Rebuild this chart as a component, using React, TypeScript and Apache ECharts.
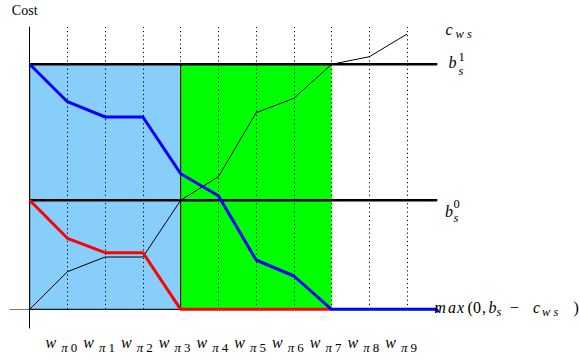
import React, { useEffect, useRef } from "react";
import * as echarts from "echarts";

// step positions (w_{π0} ... ) on the horizontal axis
const steps = [0, 1, 2, 3, 4, 5, 6, 7, 8, 9, 10];
const tickValues = [1, 2, 3, 4, 5, 6, 7, 8, 9, 10];
const tickSubscripts = ["0", "1", "2", "3", "4", "5", "6", "7", "8", "9"];

// cumulative cost c_{ws}
const costCws = [0, 37.6, 52.3, 52.3, 109, 132.6, 196.6, 211, 245, 252.6, 275.3];
// max(0, b_s^1 - c_ws) (blue)
const blueX = [0, 1, 2, 3, 4, 5, 6, 7, 8, 9, 10, 10.78, 10.82];
const blueY = [245, 207.6, 192.3, 192.3, 135.6, 113.6, 49.3, 33.3, 0, 0, 0, 0, -3];
// max(0, b_s^0 - c_ws) (red)
const redX = [0, 1, 2, 3, 4, 5, 6, 7, 8];
const redY = [109, 71, 56.6, 56.6, 0, 0, 0, 0, 0];
// budgets
const budget0 = 109;
const budget1 = 245;
// shaded phases
const bluePhase = [0, 4];
const greenPhase = [4, 8];

const X_MIN = -0.522;
const X_MAX = 10.8;
const Y_MIN = -18.7;
const Y_MAX = 282.3;

const SERIF = "'Liberation Serif', 'DejaVu Serif', serif";

function t(text: string, x: number, y: number, size: number, italic = true) {
  return {
    type: "text",
    x,
    y,
    z: 100,
    style: {
      text,
      fill: "#000",
      font: `${italic ? "italic " : ""}${size}px ${SERIF}`,
      textVerticalAlign: "middle",
      textAlign: "left",
    },
  };
}

export default function App() {
  const ref = useRef<HTMLDivElement>(null);
  useEffect(() => {
    if (!ref.current) return;
    const chart = echarts.init(ref.current, undefined, { renderer: "svg" });
    const M = 16;
    const S = 12.5;
    const option: any = {
      animation: false,
      backgroundColor: "#fff",
      grid: { left: 10, right: 142.7, top: 27, bottom: 36, outerBoundsMode: "none", containLabel: false },
      xAxis: {
        type: "value",
        min: X_MIN,
        max: X_MAX,
        axisLine: { show: true, onZero: true, lineStyle: { color: "#7a7a7a", width: 1 } },
        axisTick: { show: false },
        splitLine: { show: false },
        axisLabel: {
          show: true,
          customValues: tickValues,
          margin: 6,
          padding: [0, 12, 0, 0],
          formatter: (v: number) => {
            const i = tickValues.indexOf(Math.round(v));
            return `{w|w }{p|π}{d|${tickSubscripts[i]}}`;
          },
          rich: {
            w: { fontFamily: SERIF, fontStyle: "italic", fontSize: M, lineHeight: 20, verticalAlign: "top", color: "#000", padding: [0, 1, 0, 0] },
            p: { fontFamily: SERIF, fontStyle: "italic", fontSize: 13, lineHeight: 13, verticalAlign: "bottom", color: "#000", padding: [0, 3, 0, 0] },
            d: { fontFamily: SERIF, fontSize: 13, lineHeight: 13, verticalAlign: "bottom", color: "#000" },
          },
        },
      },
      yAxis: {
        type: "value",
        min: Y_MIN,
        max: Y_MAX,
        name: "Cost",
        nameLocation: "end",
        nameGap: 10,
        nameTextStyle: { fontFamily: SERIF, fontSize: 14, color: "#000", padding: [0, 10, 0, 0] },
        axisLine: { show: true, onZero: true, lineStyle: { color: "#000", width: 1 } },
        axisTick: { show: false },
        axisLabel: { show: false },
        splitLine: { show: false },
      },
      series: [
        {
          type: "line",
          data: [],
          z: 1,
          markArea: {
            silent: true,
            data: [
              [
                { xAxis: greenPhase[0], yAxis: 0, itemStyle: { color: "#00ff00" } },
                { xAxis: greenPhase[1], yAxis: budget1 },
              ],
              [
                { xAxis: bluePhase[0], yAxis: 0, itemStyle: { color: "#87cefa", borderColor: "#000", borderWidth: 1 } },
                { xAxis: bluePhase[1], yAxis: budget1 },
              ],
            ],
          },
        },
        {
          type: "line",
          data: [],
          z: 2,
          markLine: {
            silent: true,
            symbol: "none",
            label: { show: false },
            lineStyle: { color: "#000", type: [1.2, 3], width: 1 },
            data: tickValues.map((k) => [{ coord: [k, 0] }, { coord: [k, Y_MAX] }]),
          },
        },
        {
          type: "line",
          z: 3,
          symbol: "none",
          lineStyle: { color: "#000", width: 2.5 },
          data: [[0, budget1], [X_MAX, budget1]],
        },
        {
          type: "line",
          z: 3,
          symbol: "none",
          lineStyle: { color: "#000", width: 2.5 },
          data: [[0, budget0], [X_MAX, budget0]],
        },
        {
          type: "line",
          z: 4,
          symbol: "none",
          lineStyle: { color: "#000", width: 1 },
          data: steps.map((k, i) => [k, costCws[i]]),
        },
        {
          type: "line",
          z: 5,
          symbol: "none",
          lineStyle: { color: "#ff0000", width: 3 },
          data: redX.map((k, i) => [k, redY[i]]),
        },
        {
          type: "line",
          z: 6,
          symbol: "none",
          lineStyle: { color: "#0000ff", width: 3 },
          data: blueX.map((k, i) => [k, blueY[i]]),
        },
      ],
      graphic: [
        // c_{ws}
        t("c", 445.5, 29.5, M),
        t("w", 455.5, 34, S),
        t("s", 467, 34, S),
        // b_s^1
        t("b", 448.5, 62, M),
        t("1", 458.5, 56.5, S, false),
        t("s", 458.5, 70.5, S),
        // b_s^0
        t("b", 445, 211.5, M),
        t("0", 453.5, 204, S, false),
        t("s", 453.5, 217.5, S),
        // max(0, b_s − c_{ws})
        t("m", 434.3, 307.5, M),
        t("a", 448, 307.5, M),
        t("x", 457, 307.5, M),
        t("(", 467.5, 307.5, M, false),
        t("0", 473, 307.5, M, false),
        t(",", 482, 307.5, M, false),
        t("b", 488.5, 307.5, M),
        t("s", 496.5, 311.5, S),
        t("−", 510, 307.5, M, false),
        t("c", 533, 307.5, M),
        t("w", 542, 311.5, S),
        t("s", 553.5, 311.5, S),
        t(")", 573.5, 307.5, M, false),
      ],
    };
    chart.setOption(option);
    return () => chart.dispose();
  }, []);
  return (
    <div
      ref={ref}
      style={{ position: "fixed", left: 0, top: 0, width: 580, height: 364, background: "#fff" }}
    />
  );
}
